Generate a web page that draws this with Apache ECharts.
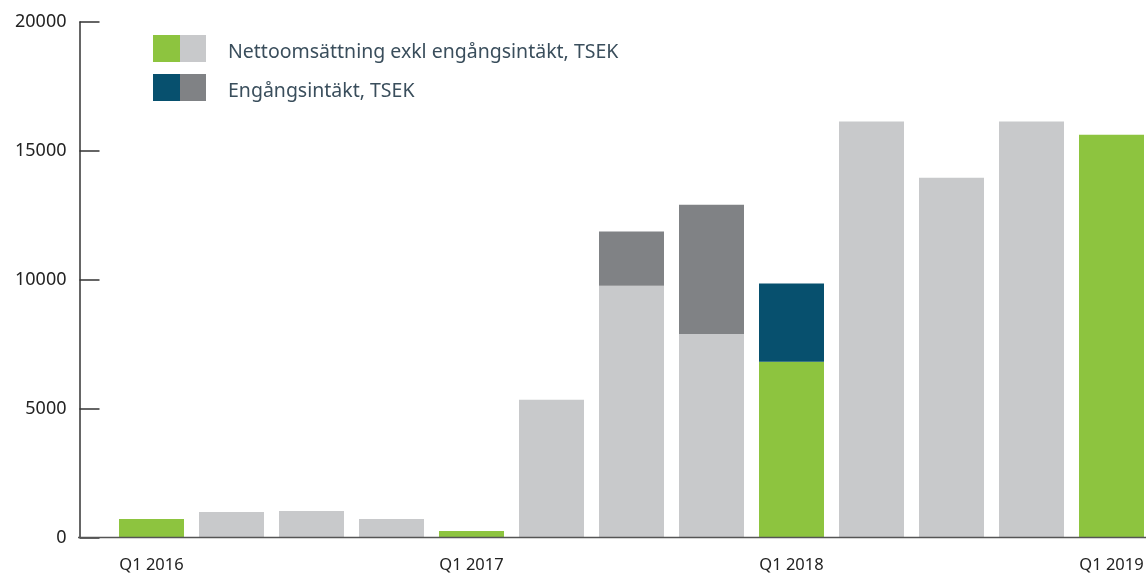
<!DOCTYPE html>
<html>
<head>
<meta charset="utf-8">
<script src="https://cdn.jsdelivr.net/npm/echarts@6/dist/echarts.min.js"></script>
<style>
  html, body { margin: 0; padding: 0; background: #fff; }
  #chart { width: 1146px; height: 576px; }
</style>
</head>
<body>
<div id="chart"></div>
<script>
// kvartal
const quarters = ['Q1 2016', 'Q2 2016', 'Q3 2016', 'Q4 2016',
  'Q1 2017', 'Q2 2017', 'Q3 2017', 'Q4 2017',
  'Q1 2018', 'Q2 2018', 'Q3 2018', 'Q4 2018', 'Q1 2019'];
// Nettoomsättning exkl engångsintäkt, TSEK
const netto = [720, 990, 1030, 720, 250, 5340, 9770, 7900, 6820, 16140, 13960, 16140, 15630];
// Engångsintäkt, TSEK
const engang = [0, 0, 0, 0, 0, 0, 2100, 5010, 3030, 0, 0, 0, 0];
const yTicks = [0, 5000, 10000, 15000, 20000];
const legendNames = ['Nettoomsättning exkl engångsintäkt, TSEK', 'Engångsintäkt, TSEK'];

const green = '#8dc43f', lightGray = '#c8c9cb', navy = '#07506e', darkGray = '#808285';
const font = '"Noto Sans", sans-serif';

let myChart = echarts.init(document.getElementById('chart'));

let option = {
  animation: false,
  grid: {
    left: 111.5, width: 1040, top: 22, bottom: 38.5,
    containLabel: false, outerBoundsMode: 'none'
  },
  xAxis: {
    type: 'category',
    data: quarters,
    axisLine: { show: false },
    axisTick: { show: false },
    axisLabel: {
      interval: 3,
      margin: 19,
      color: '#222',
      fontSize: 16.5,
      fontFamily: font
    }
  },
  yAxis: {
    type: 'value',
    min: yTicks[0],
    max: yTicks[yTicks.length - 1],
    interval: 5000,
    offset: 32,
    splitLine: { show: false },
    axisLine: { show: true, lineStyle: { color: '#333', width: 1.5 } },
    axisTick: { show: true, inside: true, length: 20, lineStyle: { color: '#333', width: 1.5 } },
    axisLabel: {
      margin: 13, color: '#222', fontSize: 18, fontFamily: font,
      formatter: v => String(v)
    }
  },
  series: [
    {
      name: legendNames[0],
      type: 'bar',
      stack: 'total',
      barWidth: 65,
      data: netto.map((v, i) => ({
        value: v,
        itemStyle: { color: quarters[i].startsWith('Q1') ? green : lightGray }
      }))
    },
    {
      name: legendNames[1],
      type: 'bar',
      stack: 'total',
      barWidth: 65,
      data: engang.map((v, i) => ({
        value: v,
        itemStyle: { color: quarters[i].startsWith('Q1') ? navy : darkGray }
      }))
    }
  ]
};
myChart.setOption(option);

// x-axellinje från y-axeln till högerkanten, och legend med tvåfärgade rutor
let y0 = myChart.convertToPixel({ yAxisIndex: 0 }, 0);
let legend = [];
legendNames.forEach((name, k) => {
  let top = 35 + k * 39;
  legend.push(
    { type: 'rect', left: 153, top: top, shape: { width: 27, height: 27 }, style: { fill: k ? navy : green } },
    { type: 'rect', left: 180, top: top, shape: { width: 26, height: 27 }, style: { fill: k ? darkGray : lightGray } },
    { type: 'text', x: 228, y: top + 17, style: { text: name, fill: '#3a4e5c', font: '19.5px ' + font, verticalAlign: 'middle' } }
  );
});
myChart.setOption({
  graphic: [
    { type: 'line', shape: { x1: 78, y1: y0, x2: 1146, y2: y0 }, style: { stroke: '#555', lineWidth: 1.5 }, z: 10 }
  ].concat(legend)
});
</script>
</body>
</html>
